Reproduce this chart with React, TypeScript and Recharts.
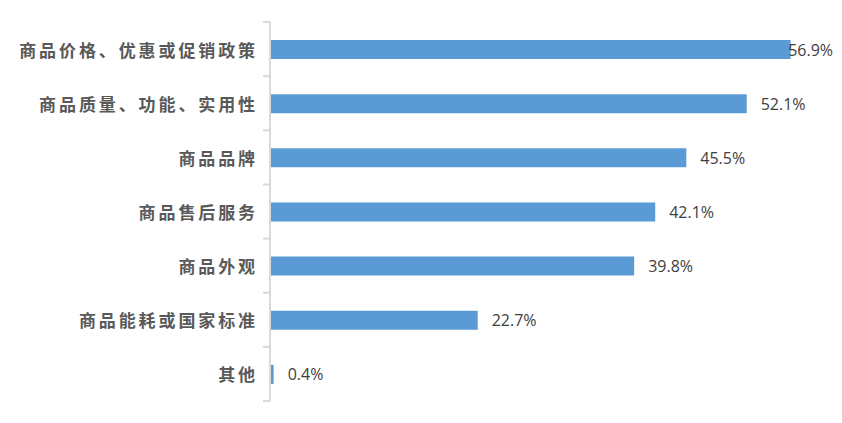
import React from "react";
import { BarChart, Bar, XAxis, YAxis, LabelList } from "recharts";

const categories = [
  "商品价格、优惠或促销政策",
  "商品质量、功能、实用性",
  "商品品牌",
  "商品售后服务",
  "商品外观",
  "商品能耗或国家标准",
  "其他",
];
const values = [56.9, 52.1, 45.5, 42.1, 39.8, 22.7, 0.4];

const data = categories.map((name, i) => ({ name, value: values[i] }));

const W = 842;
const H = 423;
const MARGIN = { top: 22, right: 23, bottom: 22, left: 0 };
const AXIS_W = 270;
const BAND = (H - MARGIN.top - MARGIN.bottom) / categories.length;

const CategoryTick = (props: any) => {
  const { x, y, payload, index } = props;
  const top = y - BAND / 2;
  const bottom = y + BAND / 2;
  return (
    <g>
      <line x1={x - 7} x2={x} y1={top} y2={top} stroke="#d9d9d9" strokeWidth={2} />
      {index === categories.length - 1 && (
        <line x1={x - 7} x2={x} y1={bottom} y2={bottom} stroke="#d9d9d9" strokeWidth={2} />
      )}
      <text
        x={x - 12}
        y={y}
        textAnchor="end"
        dominantBaseline="central"
        fill="#595959"
        fontSize={17}
        fontWeight={700}
        fontFamily='"Noto Sans CJK SC", sans-serif'
        style={{ letterSpacing: "2.9px" }}
      >
        {payload.value}
      </text>
    </g>
  );
};

const ValueLabel = (props: any) => {
  const { x, y, width, height, value } = props;
  const textW = 50;
  let lx = x + width + 14;
  let anchor: "start" | "end" = "start";
  if (lx + textW > W - 8) {
    lx = W - 9;
    anchor = "end";
  }
  return (
    <text
      x={lx}
      y={y + height / 2}
      textAnchor={anchor}
      dominantBaseline="central"
      fill="#404040"
      fontSize={16}
      fontFamily='"Open Sans", sans-serif'
    >
      {`${value}%`}
    </text>
  );
};

export default function App() {
  return (
    <div style={{ position: "absolute", left: 0, top: 0, width: W, height: H, background: "#fff" }}>
      <BarChart
        width={W}
        height={H}
        data={data}
        layout="vertical"
        margin={MARGIN}
        barSize={19}
      >
        <XAxis type="number" domain={[0, 60]} hide />
        <YAxis
          type="category"
          dataKey="name"
          width={AXIS_W}
          axisLine={{ stroke: "#d9d9d9", strokeWidth: 2 }}
          tickLine={false}
          tickSize={0}
          tickMargin={0}
          tick={<CategoryTick />}
          interval={0}
        />
        <Bar dataKey="value" fill="#5b9bd5" isAnimationActive={false}>
          <LabelList dataKey="value" content={<ValueLabel />} />
        </Bar>
      </BarChart>
    </div>
  );
}
